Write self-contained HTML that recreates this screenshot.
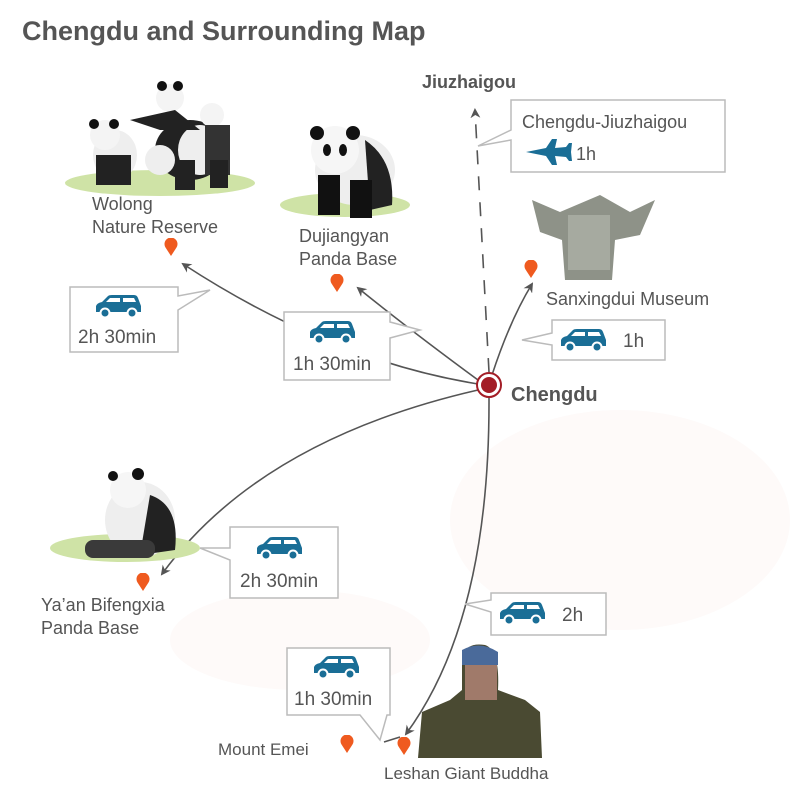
<!DOCTYPE html>
<html><head><meta charset="utf-8"><style>
html,body{margin:0;padding:0;background:#fff;}
svg{display:block;}
text{font-family:"Liberation Sans","DejaVu Sans",sans-serif;fill:#555;}
</style></head><body>
<svg width="800" height="800" viewBox="0 0 800 800" xmlns="http://www.w3.org/2000/svg">
<defs>
<symbol id="car" viewBox="0 0 48 24"><path d="M2 18 L2 12 Q3 9 8 8 L14 2 Q15 1 18 1 L40 1 Q43 1 44 4 L47 12 L47 18 Z" fill="#1a6e96"/><path d="M16 4 L26 4 L26 8 L12 8 Z M29 4 L40 4 L42 8 L29 8 Z" fill="#fff"/><circle cx="11" cy="19" r="4.5" fill="#1a6e96" stroke="#fff" stroke-width="2"/><circle cx="38" cy="19" r="4.5" fill="#1a6e96" stroke="#fff" stroke-width="2"/></symbol>
<symbol id="pin" viewBox="0 0 14 18"><path d="M7 18 L1.5 9.5 A6.5 6.5 0 1 1 12.5 9.5 Z" fill="#ef5a1f"/></symbol>
<marker id="ar" markerWidth="10" markerHeight="10" refX="8" refY="5" orient="auto" markerUnits="userSpaceOnUse"><path d="M0 0 L10 5 L0 10 L3 5 Z" fill="#555"/></marker>
</defs>
<text x="22" y="40" font-size="27" font-weight="bold" fill="#5a5a5a">Chengdu and Surrounding Map</text>

<ellipse cx="620" cy="520" rx="170" ry="110" fill="#fefaf9"/>
<ellipse cx="300" cy="640" rx="130" ry="50" fill="#fefaf9"/>

<g fill="none" stroke="#555" stroke-width="1.6">
<path d="M478 384 Q330 360 183 264" marker-end="url(#ar)"/>
<path d="M478 380 Q410 330 358 288" marker-end="url(#ar)"/>
<path d="M492 375 Q510 320 532 284" marker-end="url(#ar)"/>
<path d="M478 390 Q260 440 162 574" marker-end="url(#ar)"/>
<path d="M489 397 Q490 620 406 734" marker-end="url(#ar)"/>
<path d="M384 742 L400 737" />
<path d="M489 372 L475 110" stroke-dasharray="14 12" marker-end="url(#ar)"/>
</g>

<g fill="#fff" stroke="#bbb" stroke-width="1.5">
<path d="M70 287 H178 V296 L210 290 L178 310 V352 H70 Z"/>
<path d="M284 312 H390 V322 L420 330 L390 338 V380 H284 Z"/>
<path d="M552 320 H665 V360 H552 V345 L522 340 L552 333 Z"/>
<path d="M511 100 H725 V172 H511 V140 L478 146 L511 130 Z"/>
<path d="M230 527 H338 V598 H230 V560 L200 548 L230 548 Z"/>
<path d="M491 593 H606 V635 H491 V612 L465 604 L491 600 Z"/>
<path d="M287 648 H390 V715 H387 L380 740 L360 715 H287 Z"/>
</g>
<use href="#car" x="93" y="294" width="50" height="24"/>
<text x="78" y="343" font-size="19">2h 30min</text>
<use href="#car" x="307" y="320" width="50" height="24"/>
<text x="293" y="370" font-size="19">1h 30min</text>
<use href="#car" x="558" y="328" width="50" height="24"/>
<text x="623" y="347" font-size="19">1h</text>
<text x="522" y="128" font-size="18">Chengdu-Jiuzhaigou</text>
<path d="M526 152 L546 148 L552 139 L557 139 L555 148 L566 147 L569 143 L572 143 L571 152 L572 161 L569 161 L566 157 L555 156 L557 165 L552 165 L546 156 Z" fill="#1a6e96"/>
<text x="576" y="160" font-size="18">1h</text>
<use href="#car" x="254" y="536" width="50" height="24"/>
<text x="240" y="587" font-size="19">2h 30min</text>
<use href="#car" x="497" y="601" width="50" height="24"/>
<text x="562" y="621" font-size="19">2h</text>
<use href="#car" x="311" y="655" width="50" height="24"/>
<text x="294" y="705" font-size="19">1h 30min</text>

<circle cx="489" cy="385" r="12" fill="#fff" stroke="#a31d26" stroke-width="2"/>
<circle cx="489" cy="385" r="8" fill="#a31d26"/>
<text x="511" y="401" font-size="20" font-weight="bold">Chengdu</text>
<text x="422" y="88" font-size="18" font-weight="bold">Jiuzhaigou</text>

<use href="#pin" x="164" y="238" width="14" height="18"/>
<use href="#pin" x="330" y="274" width="14" height="18"/>
<use href="#pin" x="524" y="260" width="14" height="18"/>
<use href="#pin" x="136" y="573" width="14" height="18"/>
<use href="#pin" x="340" y="735" width="14" height="18"/>
<use href="#pin" x="397" y="737" width="14" height="18"/>

<text x="92" y="210" font-size="18">Wolong</text>
<text x="92" y="233" font-size="18">Nature Reserve</text>
<text x="299" y="242" font-size="18">Dujiangyan</text>
<text x="299" y="265" font-size="18">Panda Base</text>
<text x="546" y="305" font-size="18">Sanxingdui Museum</text>
<text x="41" y="611" font-size="18">Ya’an Bifengxia</text>
<text x="41" y="634" font-size="18">Panda Base</text>
<text x="218" y="755" font-size="17">Mount Emei</text>
<text x="384" y="779" font-size="17">Leshan Giant Buddha</text>

<ellipse cx="160" cy="183" rx="95" ry="13" fill="#cfe3a6"/>
<g>
<ellipse cx="115" cy="155" rx="22" ry="25" fill="#eee"/><rect x="96" y="155" width="35" height="30" fill="#222"/>
<circle cx="105" cy="135" r="15" fill="#f4f4f4"/><circle cx="94" cy="124" r="5" fill="#111"/><circle cx="114" cy="124" r="5" fill="#111"/>
<ellipse cx="190" cy="150" rx="35" ry="30" fill="#222"/><ellipse cx="200" cy="150" rx="22" ry="25" fill="#eee"/>
<circle cx="170" cy="98" r="14" fill="#f4f4f4"/><circle cx="162" cy="86" r="5" fill="#111"/><circle cx="178" cy="86" r="5" fill="#111"/>
<path d="M130 120 L175 110 L200 130 L160 130 Z" fill="#222"/>
<circle cx="212" cy="115" r="12" fill="#f4f4f4"/><rect x="205" y="125" width="25" height="50" fill="#333"/>
<circle cx="160" cy="160" r="15" fill="#eee"/><rect x="175" y="160" width="20" height="30" fill="#222"/><rect x="210" y="160" width="18" height="28" fill="#222"/>
</g>
<ellipse cx="345" cy="205" rx="65" ry="12" fill="#cfe3a6"/>
<ellipse cx="355" cy="170" rx="40" ry="35" fill="#eee"/><path d="M365 140 Q395 160 392 205 L370 210 Z" fill="#222"/>
<rect x="318" y="175" width="22" height="40" fill="#111"/><rect x="350" y="180" width="22" height="38" fill="#111"/>
<circle cx="335" cy="150" r="24" fill="#f6f6f6"/><circle cx="317" cy="133" r="7" fill="#111"/><circle cx="353" cy="133" r="7" fill="#111"/>
<ellipse cx="327" cy="150" rx="4" ry="6" fill="#111"/><ellipse cx="343" cy="150" rx="4" ry="6" fill="#111"/>
<path d="M532 200 L560 212 L600 195 L630 212 L655 200 L640 235 L615 240 L612 280 L565 280 L562 240 L540 232 Z" fill="#8e9288"/>
<rect x="568" y="215" width="42" height="55" fill="#a6aaa0"/>
<ellipse cx="125" cy="548" rx="75" ry="14" fill="#cfe3a6"/>
<ellipse cx="140" cy="520" rx="35" ry="38" fill="#eee"/><path d="M150 495 Q180 505 175 550 L140 555 Z" fill="#222"/>
<rect x="85" y="540" width="70" height="18" rx="8" fill="#3a3a3a"/>
<circle cx="128" cy="490" r="18" fill="#f6f6f6"/><circle cx="113" cy="476" r="5" fill="#111"/><circle cx="138" cy="474" r="6" fill="#111"/>
<path d="M462 655 Q468 642 485 645 Q500 650 498 690 L525 700 L540 712 L542 758 L418 758 L422 712 L450 700 L462 690 Z" fill="#4a4a32"/>
<rect x="465" y="655" width="32" height="45" fill="#a07a6a"/>
<path d="M462 650 Q480 640 498 652 L498 665 L462 665 Z" fill="#4a6a9a"/>
</svg>
</body></html>
